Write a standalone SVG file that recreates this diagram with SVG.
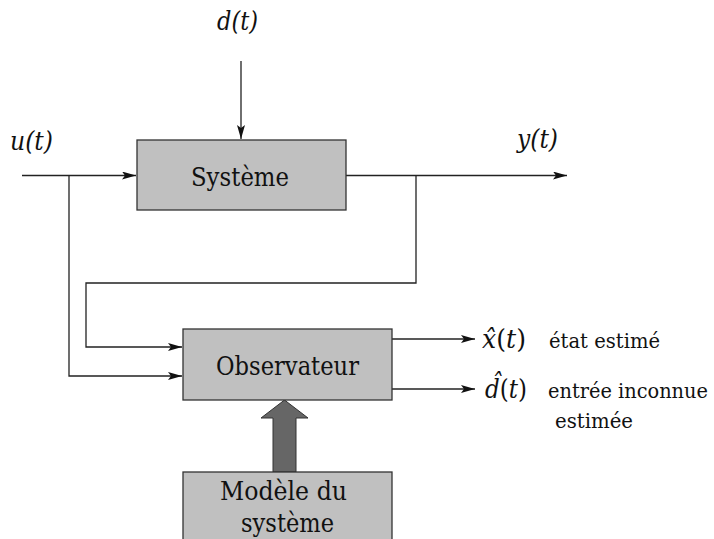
<svg xmlns="http://www.w3.org/2000/svg" width="714" height="539" viewBox="0 0 714 539">
<style>
.box{fill:#c0c0c0;stroke:#333;stroke-width:1.3}
.ln{fill:none;stroke:#222;stroke-width:1.3}
text{font-family:"DejaVu Serif","Liberation Serif",serif;fill:#111}
.lbl{font-size:26.5px}
.it{font-style:italic;font-size:25.5px}
.sm{font-size:20px}
</style>
<defs>
<marker id="ah" viewBox="0 0 14 8" refX="14" refY="4" markerWidth="14" markerHeight="8" markerUnits="userSpaceOnUse" orient="auto">
<path d="M0,0 L14,4 L0,8 L3,4 Z" fill="#111"/>
</marker>
</defs>
<rect width="714" height="539" fill="#fff"/>
<g id="connectors">
<line class="ln" x1="241" y1="61" x2="241" y2="139" marker-end="url(#ah)"/>
<line class="ln" x1="22" y1="175.5" x2="136" y2="175.5" marker-end="url(#ah)"/>
<polyline class="ln" points="69,175.5 69,376 182,376" marker-end="url(#ah)"/>
<line class="ln" x1="346" y1="175.5" x2="567" y2="175.5" marker-end="url(#ah)"/>
<polyline class="ln" points="416,175.5 416,283 86,283 86,347 182,347" marker-end="url(#ah)"/>
<line class="ln" x1="392" y1="339" x2="475" y2="339" marker-end="url(#ah)"/>
<line class="ln" x1="392" y1="389" x2="475" y2="389" marker-end="url(#ah)"/>
<path d="M273,472 L273,418 L261,418 L284.5,400 L308,418 L296,418 L296,472 Z" fill="#666" stroke="#333" stroke-width="1"/>
</g>
<g id="systeme">
<rect class="box" x="137" y="140" width="209" height="70"/>
<text class="lbl" x="191" y="186" textLength="98" lengthAdjust="spacingAndGlyphs">Système</text>
</g>
<g id="observateur">
<rect class="box" x="183" y="329" width="209" height="71"/>
<text class="lbl" x="216" y="375" textLength="143" lengthAdjust="spacingAndGlyphs">Observateur</text>
</g>
<g id="modele">
<rect class="box" x="183" y="472" width="209" height="80"/>
<text class="lbl" x="220" y="500" textLength="127" lengthAdjust="spacingAndGlyphs">Modèle du</text>
<text class="lbl" x="241" y="532" textLength="93" lengthAdjust="spacingAndGlyphs">système</text>
</g>
<g id="labels">
<text class="it" x="217" y="30" textLength="41" lengthAdjust="spacingAndGlyphs">d(t)</text>
<text class="it" x="10" y="150" textLength="43" lengthAdjust="spacingAndGlyphs">u(t)</text>
<text class="it" x="517" y="148" textLength="41" lengthAdjust="spacingAndGlyphs">y(t)</text>
<text x="482" y="348" font-size="25.5" textLength="44" lengthAdjust="spacingAndGlyphs"><tspan font-style="italic">x̂</tspan>(<tspan font-style="italic">t</tspan>)</text>
<text class="sm" x="549" y="348" textLength="111" lengthAdjust="spacingAndGlyphs">état estimé</text>
<text x="485" y="398" font-size="25.5" textLength="42" lengthAdjust="spacingAndGlyphs"><tspan font-style="italic">d̂</tspan>(<tspan font-style="italic">t</tspan>)</text>
<text class="sm" x="548" y="398" textLength="160" lengthAdjust="spacingAndGlyphs">entrée inconnue</text>
<text class="sm" x="555" y="428" textLength="78" lengthAdjust="spacingAndGlyphs">estimée</text>
</g>
</svg>
